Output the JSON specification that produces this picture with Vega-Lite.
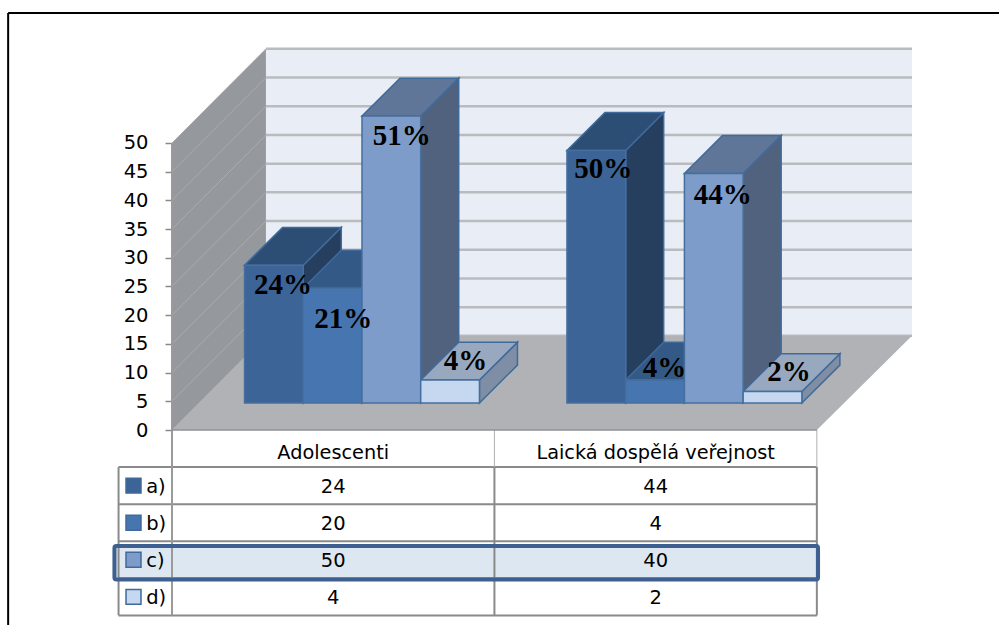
{
  "$schema": "https://vega.github.io/schema/vega-lite/v6.json",
  "width": 740,
  "height": 382,
  "autosize": {"type": "none"},
  "padding": {"left": 172, "top": 48, "right": 87, "bottom": 195},
  "background": "white",
  "config": {"view": {"stroke": null}},
  "datasets": {
    "answers": [
      {"group": "Adolescenti", "series": "a)", "value": 24, "label": "24%"},
      {"group": "Adolescenti", "series": "b)", "value": 20, "label": "21%"},
      {"group": "Adolescenti", "series": "c)", "value": 50, "label": "51%"},
      {"group": "Adolescenti", "series": "d)", "value": 4, "label": "4%"},
      {"group": "Laická dospělá veřejnost", "series": "a)", "value": 44, "label": "50%"},
      {"group": "Laická dospělá veřejnost", "series": "b)", "value": 4, "label": "4%"},
      {"group": "Laická dospělá veřejnost", "series": "c)", "value": 40, "label": "44%"},
      {"group": "Laická dospělá veřejnost", "series": "d)", "value": 2, "label": "2%"}
    ],
    "ticks": [
      {"tick": 0}, {"tick": 5}, {"tick": 10}, {"tick": 15}, {"tick": 20}, {"tick": 25},
      {"tick": 30}, {"tick": 35}, {"tick": 40}, {"tick": 45}, {"tick": 50}
    ],
    "one": [{"row": 1}]
  },
  "data": {"name": "answers"},
  "transform": [
    {"calculate": "indexof(['Adolescenti','Laická dospělá veřejnost'], datum.group)", "as": "g"},
    {"calculate": "indexof(['a)','b)','c)','d)'], datum.series)", "as": "s"},
    {"calculate": "datum.g + '-' + datum.s", "as": "id"},
    {"calculate": "1.235 + 5.49 * datum.g + datum.s", "as": "left"},
    {"calculate": "4.7 + datum.value", "as": "top"}
  ],
  "encoding": {
    "color": {
      "field": "paint", "type": "nominal", "legend": null,
      "scale": {
        "domain": ["side a)", "side b)", "side c)", "side d)", "top a)", "top b)", "top c)", "top d)", "front a)", "front b)", "front c)", "front d)"],
        "range": ["#263f5e", "#2b4a70", "#51627f", "#7f8ea5", "#2d4e74", "#335a87", "#5f7698", "#98a8bf", "#3c6496", "#4675b0", "#7e9cc9", "#c5d8f0"]
      }
    }
  },
  "layer": [
    {
      "data": {"name": "one"},
      "transform": [
        {"calculate": "[0, 1.6]", "as": "px"},
        {"calculate": "[0, 16.4]", "as": "py"},
        {"calculate": "[50, 66.4]", "as": "py2"},
        {"flatten": ["px", "py", "py2"]}
      ],
      "mark": {"type": "area"},
      "encoding": {
        "color": {"value": "#95989c"},
        "x": {"field": "px", "type": "quantitative", "stack": null, "scale": {"domain": [0, 12.6], "nice": false, "zero": false}, "axis": null},
        "y": {
          "field": "py", "type": "quantitative", "stack": null,
          "scale": {"domain": [0, 66.55], "nice": false, "zero": false},
          "axis": {
            "values": [0, 5, 10, 15, 20, 25, 30, 35, 40, 45, 50],
            "title": null, "domain": false, "grid": false, "ticks": true,
            "tickColor": "#8a8a8a", "tickSize": 7, "tickWidth": 1.5,
            "labelFont": "DejaVu Sans", "labelFontSize": 19.5, "labelColor": "#000000",
            "labelPadding": 17, "labelOverlap": false
          }
        },
        "y2": {"field": "py2"}
      }
    },
    {
      "data": {"name": "one"},
      "mark": {"type": "rect"},
      "encoding": {
        "color": {"value": "#e9edf5"},
        "x": {"datum": 1.6, "type": "quantitative", "axis": null},
        "x2": {"datum": 12.6},
        "y": {"datum": 16.4, "type": "quantitative", "axis": null},
        "y2": {"datum": 66.4}
      }
    },
    {
      "data": {"name": "ticks"},
      "transform": [
        {"calculate": "[0, 1.6]", "as": "px"},
        {"calculate": "[datum.tick, datum.tick + 16.4]", "as": "py"},
        {"flatten": ["px", "py"]}
      ],
      "mark": {"type": "line", "strokeWidth": 1},
      "encoding": {
        "color": {"value": "#a9abae"},
        "detail": {"field": "tick", "type": "nominal"},
        "x": {"field": "px", "type": "quantitative", "axis": null},
        "y": {"field": "py", "type": "quantitative", "axis": null}
      }
    },
    {
      "data": {"name": "ticks"},
      "transform": [{"calculate": "datum.tick + 16.4", "as": "backY"}],
      "mark": {"type": "rule", "strokeWidth": 2.5},
      "encoding": {
        "color": {"value": "#b9bbbf"},
        "x": {"datum": 1.6, "type": "quantitative", "axis": null},
        "x2": {"datum": 12.6},
        "y": {"field": "backY", "type": "quantitative", "axis": null}
      }
    },
    {
      "data": {"name": "one"},
      "transform": [
        {"calculate": "[0, 1.6, 10.98, 12.6]", "as": "px"},
        {"calculate": "[0, 0, 0, 16.4]", "as": "py"},
        {"calculate": "[0, 16.4, 16.4, 16.4]", "as": "py2"},
        {"flatten": ["px", "py", "py2"]}
      ],
      "mark": {"type": "area"},
      "encoding": {
        "color": {"value": "#b0b2b6"},
        "x": {"field": "px", "type": "quantitative", "stack": null, "axis": null},
        "y": {"field": "py", "type": "quantitative", "stack": null, "axis": null},
        "y2": {"field": "py2"}
      }
    },
    {
      "transform": [
        {"calculate": "'side ' + datum.series", "as": "paint"},
        {"calculate": "[datum.left + 1, datum.left + 1.647]", "as": "px"},
        {"calculate": "[4.7, 11.3]", "as": "py"},
        {"calculate": "[datum.top, datum.top + 6.6]", "as": "py2"},
        {"flatten": ["px", "py", "py2"]}
      ],
      "mark": {"type": "area", "stroke": "#3f6a9c", "strokeWidth": 1.5},
      "encoding": {
        "x": {"field": "px", "type": "quantitative", "stack": null, "axis": null},
        "y": {"field": "py", "type": "quantitative", "stack": null, "axis": null},
        "y2": {"field": "py2"},
        "detail": {"field": "id", "type": "nominal"}
      }
    },
    {
      "transform": [
        {"calculate": "'top ' + datum.series", "as": "paint"},
        {"calculate": "[datum.left, datum.left + 0.647, datum.left + 1, datum.left + 1.647]", "as": "px"},
        {"calculate": "[datum.top, datum.top, datum.top, datum.top + 6.6]", "as": "py"},
        {"calculate": "[datum.top, datum.top + 6.6, datum.top + 6.6, datum.top + 6.6]", "as": "py2"},
        {"flatten": ["px", "py", "py2"]}
      ],
      "mark": {"type": "area", "stroke": "#3f6a9c", "strokeWidth": 1.5},
      "encoding": {
        "x": {"field": "px", "type": "quantitative", "stack": null, "axis": null},
        "y": {"field": "py", "type": "quantitative", "stack": null, "axis": null},
        "y2": {"field": "py2"},
        "detail": {"field": "id", "type": "nominal"}
      }
    },
    {
      "transform": [
        {"calculate": "'front ' + datum.series", "as": "paint"},
        {"calculate": "datum.left + 1", "as": "right"},
        {"calculate": "4.7", "as": "floor"}
      ],
      "mark": {"type": "rect", "stroke": "#456f9f", "strokeWidth": 1.5},
      "encoding": {
        "x": {"field": "left", "type": "quantitative", "axis": null},
        "x2": {"field": "right"},
        "y": {"field": "floor", "type": "quantitative", "axis": null},
        "y2": {"field": "top"}
      }
    },
    {
      "transform": [
        {"calculate": "datum.left + 0.5 + [0.153, 0.182, 0.179, 0.264, 0.12, 0.162, 0.153, 0.281][datum.g * 4 + datum.s]", "as": "labelX"},
        {"calculate": "datum.top - [3.49, 5.4, 3.49, -3.31, 3.31, -2.09, 3.83, -3.48][datum.g * 4 + datum.s]", "as": "labelY"}
      ],
      "mark": {"type": "text", "font": "Liberation Serif", "fontWeight": "bold", "fontSize": 29, "baseline": "middle"},
      "encoding": {
        "color": {"value": "#000000"},
        "x": {"field": "labelX", "type": "quantitative", "axis": null},
        "y": {"field": "labelY", "type": "quantitative", "axis": null},
        "text": {"field": "label", "type": "nominal"}
      }
    },
    {
      "data": {"name": "one"},
      "mark": {"type": "rect"},
      "encoding": {
        "color": {"value": "#dde7f1"},
        "x": {"datum": -0.98, "type": "quantitative", "axis": null},
        "x2": {"datum": 11.0},
        "y": {"datum": -20.2, "type": "quantitative", "axis": null},
        "y2": {"datum": -26.05}
      }
    },
    {
      "transform": [
        {"filter": "datum.g === 0"},
        {"calculate": "-6.46 * (datum.s + 1)", "as": "lineY"}
      ],
      "mark": {"type": "rule", "strokeWidth": 2},
      "encoding": {
        "color": {"value": "#8a8a8a"},
        "x": {"datum": -0.91, "type": "quantitative", "axis": null},
        "x2": {"datum": 10.98},
        "y": {"field": "lineY", "type": "quantitative", "axis": null}
      }
    },
    {
      "data": {"name": "one"},
      "mark": {"type": "rule", "strokeWidth": 2},
      "encoding": {
        "color": {"value": "#8a8a8a"},
        "x": {"datum": -0.91, "type": "quantitative", "axis": null},
        "x2": {"datum": 10.98},
        "y": {"datum": -32.3, "type": "quantitative", "axis": null}
      }
    },
    {
      "data": {"name": "one"},
      "mark": {"type": "rule", "strokeWidth": 2},
      "encoding": {
        "color": {"value": "#9a9a9a"},
        "x": {"datum": 0, "type": "quantitative", "axis": null},
        "y": {"datum": 50, "type": "quantitative", "axis": null},
        "y2": {"datum": -32.3}
      }
    },
    {
      "data": {"name": "one"},
      "mark": {"type": "rule", "strokeWidth": 2},
      "encoding": {
        "color": {"value": "#8a8a8a"},
        "x": {"datum": -0.91, "type": "quantitative", "axis": null},
        "y": {"datum": -6.46, "type": "quantitative", "axis": null},
        "y2": {"datum": -32.3}
      }
    },
    {
      "data": {"name": "one"},
      "mark": {"type": "rule", "strokeWidth": 2},
      "encoding": {
        "color": {"value": "#8a8a8a"},
        "x": {"datum": 5.49, "type": "quantitative", "axis": null},
        "y": {"datum": -6.46, "type": "quantitative", "axis": null},
        "y2": {"datum": -32.3}
      }
    },
    {
      "data": {"name": "one"},
      "mark": {"type": "rule", "strokeWidth": 2},
      "encoding": {
        "color": {"value": "#8a8a8a"},
        "x": {"datum": 10.98, "type": "quantitative", "axis": null},
        "y": {"datum": -6.46, "type": "quantitative", "axis": null},
        "y2": {"datum": -32.3}
      }
    },
    {
      "data": {"name": "one"},
      "mark": {"type": "rule", "strokeWidth": 1},
      "encoding": {
        "color": {"value": "#b0b0b0"},
        "x": {"datum": 5.49, "type": "quantitative", "axis": null},
        "y": {"datum": 0, "type": "quantitative", "axis": null},
        "y2": {"datum": -6.46}
      }
    },
    {
      "data": {"name": "one"},
      "mark": {"type": "rule", "strokeWidth": 1},
      "encoding": {
        "color": {"value": "#b0b0b0"},
        "x": {"datum": 10.98, "type": "quantitative", "axis": null},
        "y": {"datum": 0, "type": "quantitative", "axis": null},
        "y2": {"datum": -6.46}
      }
    },
    {
      "data": {"name": "one"},
      "mark": {"type": "rule", "strokeWidth": 1.5},
      "encoding": {
        "color": {"value": "#8f9195"},
        "x": {"datum": 0, "type": "quantitative", "axis": null},
        "x2": {"datum": 10.98},
        "y": {"datum": 0, "type": "quantitative", "axis": null}
      }
    },
    {
      "data": {"name": "one"},
      "mark": {"type": "rect", "fillOpacity": 0, "stroke": "#3d6090", "strokeWidth": 4, "cornerRadius": 2},
      "encoding": {
        "color": {"value": "#dde7f1"},
        "x": {"datum": -0.98, "type": "quantitative", "axis": null},
        "x2": {"datum": 11.0},
        "y": {"datum": -20.2, "type": "quantitative", "axis": null},
        "y2": {"datum": -26.05}
      }
    },
    {
      "transform": [
        {"filter": "datum.s === 0"},
        {"calculate": "2.745 + 5.49 * datum.g", "as": "colX"}
      ],
      "mark": {"type": "text", "font": "DejaVu Sans", "fontSize": 19.3, "baseline": "middle"},
      "encoding": {
        "color": {"value": "#000000"},
        "x": {"field": "colX", "type": "quantitative", "axis": null},
        "y": {"datum": -4.0, "type": "quantitative", "axis": null},
        "text": {"field": "group", "type": "nominal"}
      }
    },
    {
      "transform": [
        {"calculate": "2.745 + 5.49 * datum.g", "as": "colX"},
        {"calculate": "-6.46 * (datum.s + 1.5) - 0.2", "as": "rowY"}
      ],
      "mark": {"type": "text", "font": "DejaVu Sans", "fontSize": 19.5, "baseline": "middle"},
      "encoding": {
        "color": {"value": "#000000"},
        "x": {"field": "colX", "type": "quantitative", "axis": null},
        "y": {"field": "rowY", "type": "quantitative", "axis": null},
        "text": {"field": "value", "type": "quantitative"}
      }
    },
    {
      "transform": [
        {"filter": "datum.g === 0"},
        {"calculate": "-6.46 * (datum.s + 1.5) - 0.2", "as": "rowY"}
      ],
      "mark": {"type": "text", "font": "DejaVu Sans", "fontSize": 19.5, "baseline": "middle", "align": "left"},
      "encoding": {
        "color": {"value": "#000000"},
        "x": {"datum": -0.44, "type": "quantitative", "axis": null},
        "y": {"field": "rowY", "type": "quantitative", "axis": null},
        "text": {"field": "series", "type": "nominal"}
      }
    },
    {
      "transform": [
        {"filter": "datum.g === 0"},
        {"calculate": "'front ' + datum.series", "as": "paint"},
        {"calculate": "-6.46 * (datum.s + 1.5) + 1.3", "as": "boxTop"},
        {"calculate": "-6.46 * (datum.s + 1.5) - 1.3", "as": "boxBottom"},
        {"calculate": "-0.783", "as": "boxLeft"},
        {"calculate": "-0.528", "as": "boxRight"}
      ],
      "mark": {"type": "rect", "stroke": "#41699c", "strokeWidth": 1.5},
      "encoding": {
        "x": {"field": "boxLeft", "type": "quantitative", "axis": null},
        "x2": {"field": "boxRight"},
        "y": {"field": "boxTop", "type": "quantitative", "axis": null},
        "y2": {"field": "boxBottom"}
      }
    },
    {
      "data": {"name": "one"},
      "mark": {"type": "rule", "strokeWidth": 2},
      "encoding": {
        "color": {"value": "#000000"},
        "x": {"datum": -2.79, "type": "quantitative", "axis": null},
        "x2": {"datum": 14.1},
        "y": {"datum": 72.65, "type": "quantitative", "axis": null}
      }
    },
    {
      "data": {"name": "one"},
      "mark": {"type": "rule", "strokeWidth": 2},
      "encoding": {
        "color": {"value": "#000000"},
        "x": {"datum": -2.79, "type": "quantitative", "axis": null},
        "y": {"datum": 72.65, "type": "quantitative", "axis": null},
        "y2": {"datum": -34}
      }
    }
  ],
  "resolve": {"axis": {"y": "independent"}}
}
